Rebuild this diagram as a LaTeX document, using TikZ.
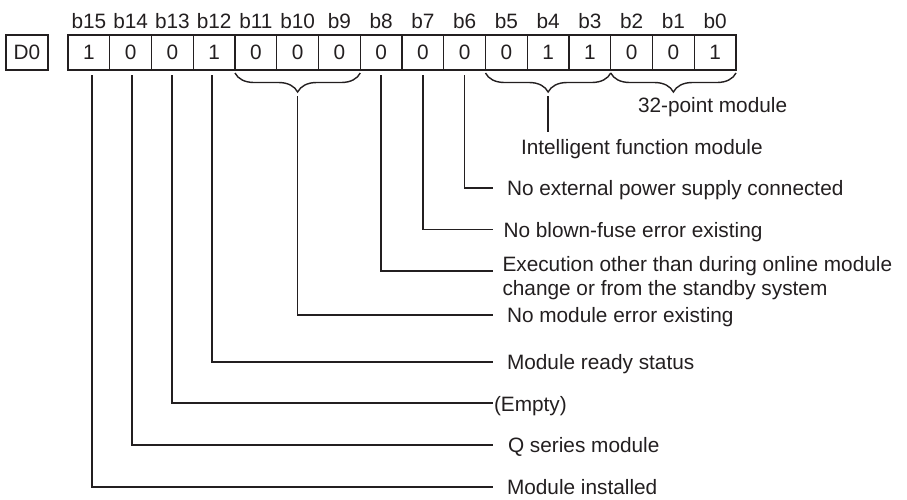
\documentclass[tikz,border=0pt]{standalone}
\usepackage{fontspec}
\setmainfont{Liberation Sans}
\usetikzlibrary{decorations.pathreplacing,calc}
\definecolor{ink}{HTML}{231F20}
\begin{document}
\begin{tikzpicture}[x=1pt,y=-1pt,
  every node/.style={font=\fontsize{20.8}{24}\selectfont, text=ink, inner sep=0pt, outer sep=0pt},
  cell/.style={draw=ink, line width=1.3pt, minimum width=41.75pt, minimum height=35pt},
  bitlabel/.style={anchor=base},
  desc/.style={anchor=base west},
  leader/.style={draw=ink, line width=1.7pt},
  bracebar/.style={draw=ink, line width=1.4pt, decorate, decoration={brace, mirror, amplitude=19pt}}
]
\useasboundingbox (0,0) rectangle (907,499);
% register
\node[cell] (d0) at (27,52.5) {D0};
\foreach \k/\v in {0/1,1/0,2/0,3/1,4/0,5/0,6/0,7/0,8/0,9/0,10/0,11/1,12/1,13/0,14/0,15/1} {
  \pgfmathtruncatemacro\bit{15-\k}
  \node[cell] (c\bit) at ({68+41.75*(\k+0.5)},52.5) {\v};
  \node[bitlabel] (t\bit) at ({68+41.75*(\k+0.5)},28) {b\bit};
}
% braces
\draw[bracebar] ($(c11.south west)+(0,3)$) -- ($(c9.south east)+(0,3)$);
\draw[bracebar] ($(c5.south west)+(0,3)$) -- ($(c3.south east)+(0,3)$);
\draw[bracebar] ($(c2.south west)+(0,3)$) -- ($(c0.south east)+(0,3)$);
% labels under braces
\node[desc] (l0) at (638,112) {32-point module};
\node[desc] (l4) at (521,154) {Intelligent function module};
% right-hand descriptions
\node[desc] (l6) at (507,195.5) {No external power supply connected};
\node[desc] (l7) at (503.5,237) {No blown-fuse error existing};
\node[desc] (l8) at (502.5,271) {\begin{tabular}[t]{@{}l@{}}Execution other than during online module\\change or from the standby system\end{tabular}};
\node[desc] (l10) at (507,322.5) {No module error existing};
\node[desc] (l12) at (507,369) {Module ready status};
\node[desc] (l13) at (494,411) {(Empty)};
\node[desc] (l14) at (508,452.5) {Q series module};
\node[desc] (l15) at (507,494) {Module installed};
% leader ends
\coordinate (e4) at ($(c4.south)+(0,61.7)$);
\coordinate (e6) at (493,188);
\coordinate (e7) at (493,229.5);
\coordinate (e8) at (493,271);
\coordinate (e10) at (493,315);
\coordinate (e12) at (493,361.7);
\coordinate (e13) at (493,403.3);
\coordinate (e14) at (493,445);
\coordinate (e15) at (493,486.7);
% leaders
\draw[leader] ($(c4.south)+(0,26)$) -- (e4);
\draw[leader] ($(c6.south)+(0,5)$) |- (e6);
\draw[leader] ($(c7.south)+(0,5)$) |- (e7);
\draw[leader] ($(c8.south)+(0,5)$) |- (e8);
\draw[leader] ($(c10.south)+(0,26)$) |- (e10);
\draw[leader] ($(c12.south)+(-2.4,5)$) |- (e12);
\draw[leader] ($(c13.south)+(-0.7,5)$) |- (e13);
\draw[leader] ($(c14.south)+(1.1,5)$) |- (e14);
\draw[leader] ($(c15.south)+(2.8,5)$) |- (e15);
\end{tikzpicture}
\end{document}
